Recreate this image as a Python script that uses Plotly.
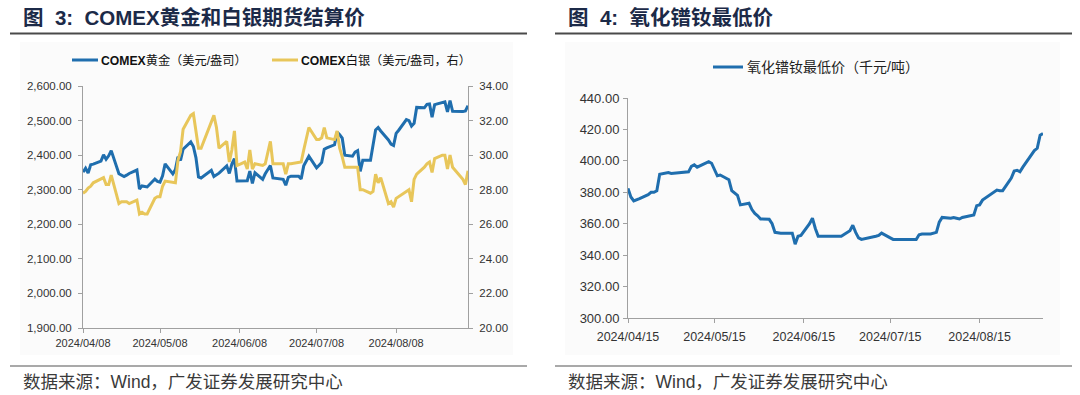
import plotly.graph_objects as go
import pandas as pd

W, H = 1080, 395

# ---------------- data ----------------
us_holidays = ["2024-05-27", "2024-06-19", "2024-07-04", "2024-09-02"]
comex_dates = pd.bdate_range("2024-04-08", "2024-09-05", freq="C", holidays=us_holidays)

gold = [
    2351, 2362, 2348, 2372, 2374, 2383, 2401, 2388, 2398, 2413, 2346, 2342, 2338, 2342, 2347, 2357, 2302,
    2311, 2309, 2308, 2331, 2324, 2322, 2340, 2375, 2346, 2358, 2395, 2385, 2417, 2438, 2425, 2393, 2337, 2334, 2356, 2338, 2343, 2348,
    2369, 2347, 2374, 2390, 2325, 2327, 2326, 2354, 2318, 2349, 2330, 2346, 2370, 2334, 2331, 2330, 2313, 2336, 2339,
    2339, 2331, 2369, 2397, 2363, 2371, 2379, 2417, 2421, 2430, 2467, 2459, 2449, 2400, 2397, 2409, 2413, 2353, 2385, 2385, 2427, 2473,
    2480, 2470, 2444, 2432, 2428, 2463, 2472, 2503, 2500, 2484, 2492, 2538, 2537, 2547, 2548, 2510, 2546, 2553, 2554, 2525, 2558, 2527,
    2526, 2528, 2543,
]
silver = [
    27.8, 27.9, 28.1, 28.2, 28.4, 28.65, 28.7, 28.3, 28.3, 28.85, 27.2, 27.3, 27.3, 27.3, 27.2, 27.4, 26.6,
    26.7, 26.6, 26.6, 27.5, 27.6, 27.6, 28.2, 28.5, 28.4, 28.4, 29.7, 30.2, 31.5, 32.3, 32.4, 31.4, 30.4, 30.4, 31.9, 32.3, 31.6, 30.4,
    30.8, 29.6, 30.3, 31.4, 29.4, 29.6, 29.2, 30.3, 29.2, 29.5, 29.4, 29.5, 30.8, 29.5, 29.5, 29.5, 28.9, 29.5, 29.5,
    29.6, 29.6, 30.3, 31.6, 30.9, 30.9, 31.0, 31.6, 31.0, 30.9, 31.4, 30.4, 29.9, 29.3, 29.3, 29.3, 29.3, 28.0, 28.0, 27.8, 27.9, 28.9,
    28.4, 28.7, 27.2, 27.3, 27.0, 27.5, 27.6, 27.9, 28.0, 27.3, 28.6, 28.9, 29.3, 29.5, 29.6, 29.0, 29.8, 30.0, 30.0, 29.2, 30.0, 29.3,
    28.6, 28.3, 29.1,
]
comex_ticks = ["2024-04-08", "2024-05-08", "2024-06-08", "2024-07-08", "2024-08-08"]

cn_holidays = ["2024-05-01", "2024-05-02", "2024-05-03", "2024-06-10"]
ndpr_dates = pd.bdate_range("2024-04-15", "2024-09-06", freq="C", holidays=cn_holidays)
ndpr = [
    382.5, 377, 374.5, 375.5, 376, 378.5, 380, 380, 381, 391.5, 392.5, 392,
    393, 396.5, 397.5, 396, 397, 399.5, 398.5, 394, 390.5, 391, 388, 381, 379.5, 378, 372, 373, 369, 366.5, 365, 363,
    362.8, 360, 354.5, 354.2, 354, 354, 347, 352, 352.5, 360, 363.5, 357, 352, 352, 352, 352, 352, 352, 352,
    355.5, 359, 354.5, 351, 350, 351, 351.5, 352, 352.5, 354, 351, 350, 350, 350, 350, 350, 350, 350, 353, 353.5, 353.5, 354, 354.5,
    361, 364, 363.5, 364, 363.5, 363, 364, 365, 365.6, 371.5, 372, 375, 378.5, 380, 381.4, 381, 381, 389, 393.5, 394, 393, 396,
    404, 406.5, 408, 416.3, 417.4,
]
ndpr_ticks = ["2024-04-15", "2024-05-15", "2024-06-15", "2024-07-15", "2024-08-15"]

n1 = min(len(comex_dates), len(gold), len(silver))
n2 = min(len(ndpr_dates), len(ndpr))

# ---------------- styles ----------------
BLUE = "#1f6eae"
GOLD = "#e8c65a"
AXIS = "#a0a0a0"
TXT = "#333333"
NUMFONT = "Liberation Sans, Arial, sans-serif"
MIX = "Liberation Sans, Arial, Noto Sans CJK SC, sans-serif"


def px(x):
    return x / W


def py(y):
    return 1 - y / H


fig = go.Figure()
fig.add_trace(go.Scatter(x=comex_dates[:n1], y=gold[:n1], mode="lines",
                         line=dict(color=BLUE, width=3), xaxis="x", yaxis="y",
                         showlegend=False, name="COMEX黄金（美元/盎司）"))
fig.add_trace(go.Scatter(x=comex_dates[:n1], y=silver[:n1], mode="lines",
                         line=dict(color=GOLD, width=3), xaxis="x", yaxis="y2",
                         showlegend=False, name="COMEX白银（美元/盎司，右）"))
fig.add_trace(go.Scatter(x=ndpr_dates[:n2], y=ndpr[:n2], mode="lines",
                         line=dict(color=BLUE, width=3), xaxis="x2", yaxis="y3",
                         showlegend=False, name="氧化镨钕最低价（千元/吨）"))

common_axis = dict(showgrid=False, zeroline=False, showline=True, linecolor=AXIS,
                   linewidth=1, ticks="outside", tickcolor=AXIS, ticklen=4, tickwidth=1,
                   automargin=False)

fig.update_layout(
    width=W, height=H, autosize=False,
    margin=dict(l=0, r=0, t=0, b=0),
    paper_bgcolor="white", plot_bgcolor="rgba(0,0,0,0)",
    showlegend=False,
    xaxis=dict(domain=[px(83), px(468)], anchor="y", type="date",
               range=["2024-04-08", "2024-09-05"], tickvals=comex_ticks,
               tickformat="%Y/%m/%d", tickfont=dict(family=NUMFONT, size=11, color=TXT),
               ticklabelstandoff=1, **common_axis),
    yaxis=dict(domain=[py(328), py(86)], anchor="x", range=[1900, 2600], dtick=100,
               tickformat=",.2f", tickfont=dict(family=NUMFONT, size=11.5, color=TXT),
               ticklabelstandoff=4, **common_axis),
    yaxis2=dict(anchor="x", overlaying="y", side="right", range=[20, 34], dtick=2,
                tickformat=".2f", tickfont=dict(family=NUMFONT, size=11.5, color=TXT),
                ticklabelstandoff=4, **common_axis),
    xaxis2=dict(domain=[px(628), px(1043)], anchor="y3", type="date",
                range=["2024-04-15", "2024-09-06"], tickvals=ndpr_ticks,
                tickformat="%Y/%m/%d", tickfont=dict(family=NUMFONT, size=12.5, color=TXT),
                ticklabelstandoff=3, **common_axis),
    yaxis3=dict(domain=[py(318), py(98)], anchor="x2", range=[300, 440], dtick=20,
                tickformat=".2f", tickfont=dict(family=NUMFONT, size=13, color=TXT),
                ticklabelstandoff=1, **common_axis),
)

shapes = [
    # panel backgrounds
    dict(type="rect", xref="paper", yref="paper", x0=px(20), x1=px(513), y0=py(355), y1=py(42),
         fillcolor="#fbfbfb", line=dict(width=0), layer="below"),
    dict(type="rect", xref="paper", yref="paper", x0=px(565), x1=px(1060), y0=py(355), y1=py(42),
         fillcolor="#fbfbfb", line=dict(width=0), layer="below"),
    # title rules
    dict(type="line", xref="paper", yref="paper", x0=px(10), x1=px(527), y0=py(33.5), y1=py(33.5),
         line=dict(color="#4a4a4a", width=2)),
    dict(type="line", xref="paper", yref="paper", x0=px(555), x1=px(1072), y0=py(33.5), y1=py(33.5),
         line=dict(color="#4a4a4a", width=2)),
    # bottom rules
    dict(type="line", xref="paper", yref="paper", x0=px(10), x1=px(527), y0=py(366), y1=py(366),
         line=dict(color="#555555", width=1.2)),
    dict(type="line", xref="paper", yref="paper", x0=px(555), x1=px(1072), y0=py(366), y1=py(366),
         line=dict(color="#555555", width=1.2)),
    # legend samples
    dict(type="line", xref="paper", yref="paper", x0=px(72), x1=px(98), y0=py(60), y1=py(60),
         line=dict(color=BLUE, width=3)),
    dict(type="line", xref="paper", yref="paper", x0=px(272), x1=px(298), y0=py(60), y1=py(60),
         line=dict(color=GOLD, width=3)),
    dict(type="line", xref="paper", yref="paper", x0=px(713), x1=px(743), y0=py(67), y1=py(67),
         line=dict(color=BLUE, width=3)),
]

annotations = [
    dict(text="<b>图  3:  COMEX黄金和白银期货结算价</b>", x=px(21), y=py(17), xref="paper", yref="paper",
         xanchor="left", yanchor="middle", showarrow=False,
         font=dict(family=MIX, size=20.5, color="#1c2a48")),
    dict(text="<b>图  4:  氧化镨钕最低价</b>", x=px(566), y=py(17), xref="paper", yref="paper",
         xanchor="left", yanchor="middle", showarrow=False,
         font=dict(family=MIX, size=20.5, color="#1c2a48")),
    dict(text="数据来源：Wind，广发证券发展研究中心", x=px(21), y=py(382), xref="paper", yref="paper",
         xanchor="left", yanchor="middle", showarrow=False,
         font=dict(family=MIX, size=17.5, color="#3a3a3a")),
    dict(text="数据来源：Wind，广发证券发展研究中心", x=px(566), y=py(382), xref="paper", yref="paper",
         xanchor="left", yanchor="middle", showarrow=False,
         font=dict(family=MIX, size=17.5, color="#3a3a3a")),
    dict(text="<b>COMEX</b>黄金（美元/盎司）", x=px(99), y=py(60), xref="paper", yref="paper",
         xanchor="left", yanchor="middle", showarrow=False,
         font=dict(family=MIX, size=12.2, color="#111111")),
    dict(text="<b>COMEX</b>白银（美元/盎司，右）", x=px(299), y=py(60), xref="paper", yref="paper",
         xanchor="left", yanchor="middle", showarrow=False,
         font=dict(family=MIX, size=12.2, color="#111111")),
    dict(text="氧化镨钕最低价（千元/吨）", x=px(745), y=py(67), xref="paper", yref="paper",
         xanchor="left", yanchor="middle", showarrow=False,
         font=dict(family=MIX, size=14, color="#222222")),
]

fig.update_layout(shapes=shapes, annotations=annotations)
fig.write_html(
    "out.html",
    config={"displayModeBar": False},
    post_script="document.body.style.margin='0px';document.body.style.padding='0px';document.body.style.overflow='hidden';",
)
